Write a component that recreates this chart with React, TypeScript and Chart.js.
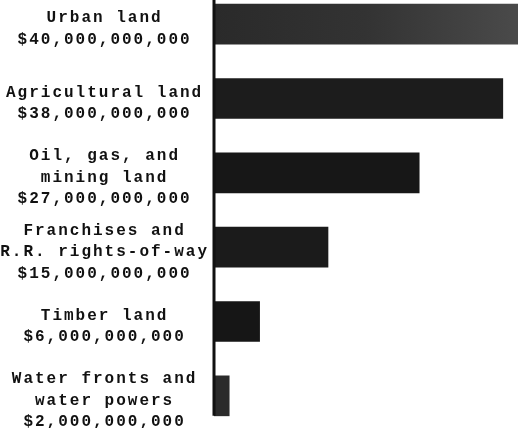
import React, { useEffect, useRef } from "react";
import { Chart, registerables } from "chart.js";

Chart.register(...registerables);

const categories: string[][] = [
  ["Urban land", "$40,000,000,000"],
  ["Agricultural land", "$38,000,000,000"],
  ["Oil, gas, and", "mining land", "$27,000,000,000"],
  ["Franchises and", "R.R. rights-of-way", "$15,000,000,000"],
  ["Timber land", "$6,000,000,000"],
  ["Water fronts and", "water powers", "$2,000,000,000"],
];

// values in billions of dollars
const values: number[] = [40, 38, 27, 15, 6, 2];

const barColors: string[] = ["#363636", "#1c1c1c", "#171717", "#1b1b1b", "#161616", "#2b2b2b"];

const xMax = 40;

export default function App() {
  const ref = useRef<HTMLCanvasElement>(null);

  useEffect(() => {
    if (!ref.current) return;

    const spacing = {
      id: "letterSpacing",
      beforeUpdate(c: any) {
        c.ctx.letterSpacing = "2px";
      },
      beforeDraw(c: any) {
        c.ctx.letterSpacing = "2px";
        // nudge the tick labels (drawn before datasets) slightly downward
        c.ctx.save();
        c.ctx.translate(0, 5);
      },
      beforeDatasetsDraw(c: any) {
        c.ctx.restore();
      },
    };

    const axisLine = {
      id: "axisLine",
      afterDatasetsDraw(c: any) {
        const meta = c.getDatasetMeta(0);
        let top = Infinity;
        let bottom = -Infinity;
        meta.data.forEach((b: any) => {
          const p = b.getProps(["y", "height"], true);
          top = Math.min(top, p.y - Math.abs(p.height) / 2);
          bottom = Math.max(bottom, p.y + Math.abs(p.height) / 2);
        });
        const x = c.scales.x.getPixelForValue(0);
        const ctx = c.ctx;
        ctx.save();
        ctx.strokeStyle = "#111";
        ctx.lineWidth = 3;
        ctx.beginPath();
        ctx.moveTo(x, Math.max(0, top - 20));
        ctx.lineTo(x, bottom);
        ctx.stroke();
        ctx.restore();
      },
    };

    const bg = (ctx: any) => {
      const i = ctx.dataIndex;
      const chart = ctx.chart;
      const area = chart.chartArea;
      if (i === 0 && area) {
        const g = chart.ctx.createLinearGradient(area.left, 0, area.right, 0);
        g.addColorStop(0, "#2a2a2a");
        g.addColorStop(0.5, "#333333");
        g.addColorStop(1, "#4a4a4a");
        return g;
      }
      return barColors[i];
    };

    const chart = new Chart(ref.current, {
      type: "bar",
      data: {
        labels: categories,
        datasets: [
          {
            data: values,
            backgroundColor: bg,
            borderWidth: 0,
            barThickness: 40,
          },
        ],
      },
      options: {
        indexAxis: "y",
        animation: false,
        responsive: false,
        maintainAspectRatio: false,
        layout: { padding: 0 },
        plugins: {
          legend: { display: false },
          tooltip: { enabled: false },
        },
        scales: {
          x: {
            display: false,
            min: 0,
            max: xMax,
          },
          y: {
            offset: true,
            grid: { display: false, drawTicks: false },
            border: { display: false },
            afterFit(scale: any) {
              scale.width = 214;
              scale.paddingTop = 0;
              scale.paddingBottom = 0;
            },
            ticks: {
              crossAlign: "center",
              padding: 5,
              color: "#111",
              font: {
                family: "'Liberation Mono', 'DejaVu Sans Mono', monospace",
                weight: "bold",
                size: 16,
                lineHeight: 1.35,
              },
            },
          },
        },
      },
      plugins: [spacing, axisLine],
    } as any);

    return () => chart.destroy();
  }, []);

  return (
    <div
      style={{
        position: "fixed",
        left: 0,
        top: -13,
        width: 518,
        height: 446,
        background: "#fff",
      }}
    >
      <canvas ref={ref} width={518} height={446} style={{ display: "block" }} />
    </div>
  );
}
